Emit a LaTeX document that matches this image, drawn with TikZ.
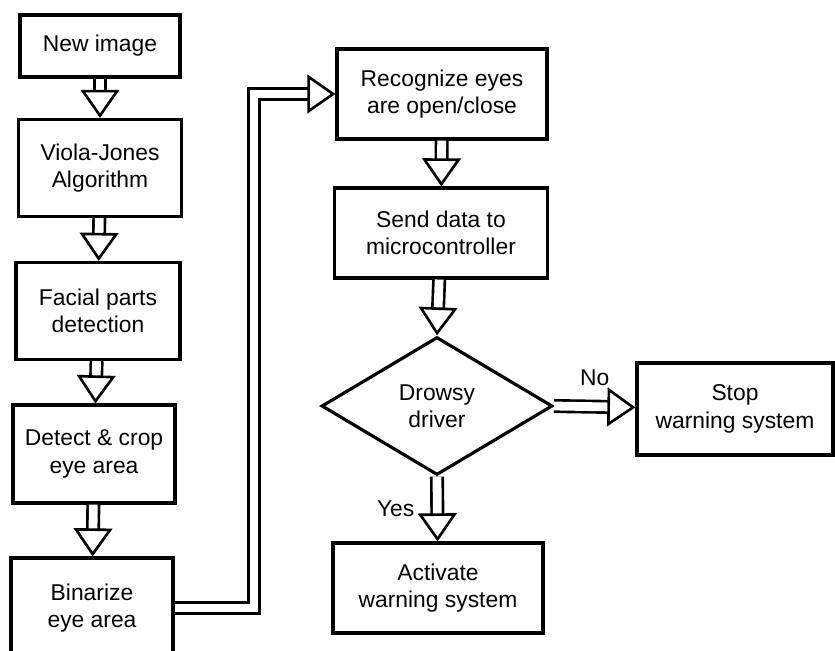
\documentclass[tikz,border=0pt]{standalone}
\usepackage{fontspec}
\setmainfont{Liberation Sans}
\usetikzlibrary{arrows.meta,shapes.geometric}

\begin{document}
\begin{tikzpicture}[x=0.02cm, y=-0.02cm,
    box/.style={draw, line width=1.8pt, align=center, inner sep=2pt,
        font=\fontsize{13}{15.5}\selectfont},
    decision/.style={box, diamond, inner sep=0pt},
    flow/.style={double, double distance=5pt, line width=1.5pt,
        -{Triangle[open, length=16pt, width=22pt, line width=1.5pt, fill=white]}},
    lbl/.style={font=\fontsize{13}{15.5}\selectfont}]
    \useasboundingbox (0,0) rectangle (835,650);
    \clip (0,0) rectangle (835,650);

    % linke Spalte
    \node[box, minimum width=3.2cm, minimum height=1.24cm] (new) at (100,46) {New image};
    \node[box, minimum width=3.26cm, minimum height=1.94cm] (viola) at (100,168) {Viola-Jones\\Algorithm};
    \node[box, minimum width=3.28cm, minimum height=1.94cm] (facial) at (98,311) {Facial parts\\detection};
    \node[box, minimum width=3.24cm, minimum height=1.96cm] (crop) at (94,454) {Detect \& crop\\eye area};
    \node[box, minimum width=3.24cm, minimum height=2cm] (bin) at (92,608) {Binarize\\eye area};

    % rechte Spalte
    \node[box, minimum width=4.2cm, minimum height=1.8cm] (rec) at (442,94) {Recognize eyes\\are open/close};
    \node[box, minimum width=4.26cm, minimum height=1.8cm] (send) at (441,233) {Send data to\\microcontroller};
    \node[decision, minimum width=4.62cm, minimum height=2.76cm] (drowsy) at (437,406) {Drowsy\\driver};
    \node[box, minimum width=4.2cm, minimum height=1.8cm] (act) at (438,588) {Activate\\warning system};
    \node[box, minimum width=3.92cm, minimum height=1.84cm] (stop) at (735,409) {Stop\\warning system};

    % Pfeile
    \draw[flow] (new) -- (viola);
    \draw[flow] (viola) -- (facial);
    \draw[flow] (facial) -- (crop);
    \draw[flow] (crop) -- (bin);
    \coordinate (bend) at (254,608);
    \draw[flow] (bin.east) -- (bend) |- (rec.west);
    \draw[flow] (rec) -- (send);
    \draw[flow] (send) -- (drowsy.north);
    \draw[flow] (drowsy.south) -- (act) node[lbl, midway, left=9pt] {Yes};
    \draw[flow] (drowsy.east) -- (stop) node[lbl, midway, above=8pt] {No};
\end{tikzpicture}
\end{document}
